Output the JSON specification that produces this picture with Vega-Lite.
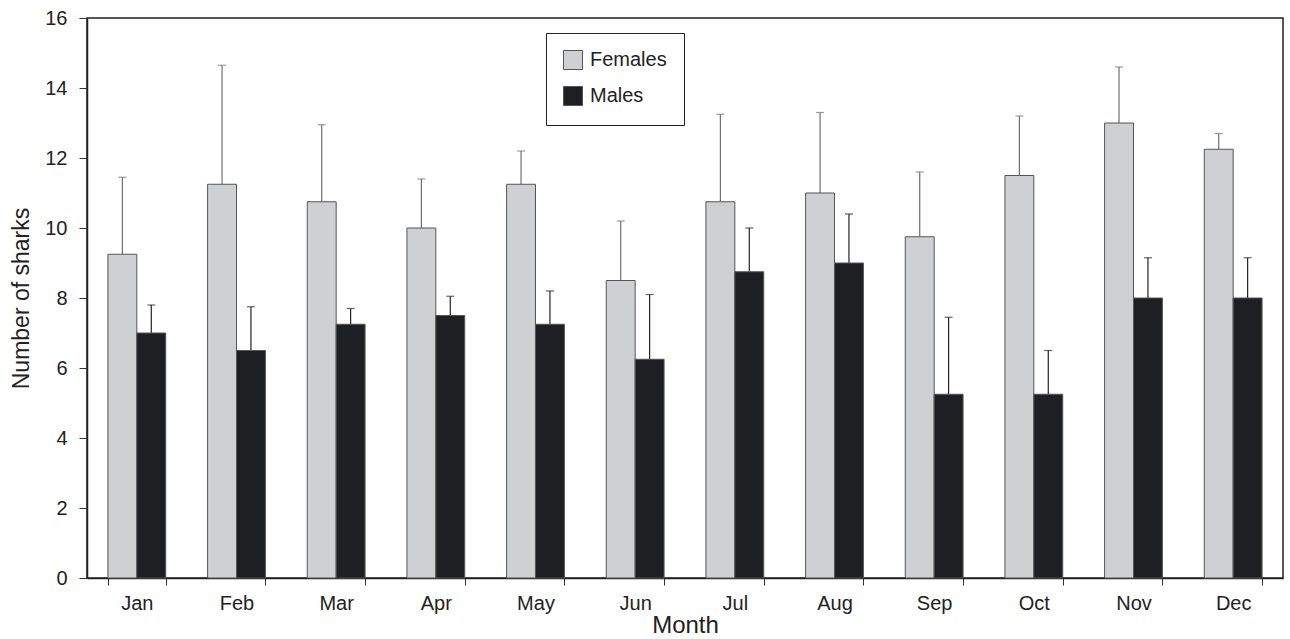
{
  "$schema": "https://vega.github.io/schema/vega-lite/v6.json",
  "autosize": {"type": "none"},
  "padding": {"left": 87, "top": 18, "right": 7, "bottom": 61},
  "width": 1196,
  "height": 560,
  "background": "white",
  "config": {
    "font": "Liberation Sans",
    "view": {"stroke": "#222", "strokeWidth": 1.5},
    "axis": {"domainColor": "#222", "domainWidth": 1.5, "tickColor": "#333", "labelColor": "#222", "titleColor": "#222", "labelFont": "Liberation Sans", "titleFont": "Liberation Sans", "titleFontWeight": "normal"}
  },
  "data": {
    "values": [
      {"month": "Jan", "sex": "Females", "value": 9.25, "upper": 11.45},
      {"month": "Jan", "sex": "Males", "value": 7.0, "upper": 7.8},
      {"month": "Feb", "sex": "Females", "value": 11.25, "upper": 14.65},
      {"month": "Feb", "sex": "Males", "value": 6.5, "upper": 7.75},
      {"month": "Mar", "sex": "Females", "value": 10.75, "upper": 12.95},
      {"month": "Mar", "sex": "Males", "value": 7.25, "upper": 7.7},
      {"month": "Apr", "sex": "Females", "value": 10.0, "upper": 11.4},
      {"month": "Apr", "sex": "Males", "value": 7.5, "upper": 8.05},
      {"month": "May", "sex": "Females", "value": 11.25, "upper": 12.2},
      {"month": "May", "sex": "Males", "value": 7.25, "upper": 8.2},
      {"month": "Jun", "sex": "Females", "value": 8.5, "upper": 10.2},
      {"month": "Jun", "sex": "Males", "value": 6.25, "upper": 8.1},
      {"month": "Jul", "sex": "Females", "value": 10.75, "upper": 13.25},
      {"month": "Jul", "sex": "Males", "value": 8.75, "upper": 10.0},
      {"month": "Aug", "sex": "Females", "value": 11.0, "upper": 13.3},
      {"month": "Aug", "sex": "Males", "value": 9.0, "upper": 10.4},
      {"month": "Sep", "sex": "Females", "value": 9.75, "upper": 11.6},
      {"month": "Sep", "sex": "Males", "value": 5.25, "upper": 7.45},
      {"month": "Oct", "sex": "Females", "value": 11.5, "upper": 13.2},
      {"month": "Oct", "sex": "Males", "value": 5.25, "upper": 6.5},
      {"month": "Nov", "sex": "Females", "value": 13.0, "upper": 14.6},
      {"month": "Nov", "sex": "Males", "value": 8.0, "upper": 9.15},
      {"month": "Dec", "sex": "Females", "value": 12.25, "upper": 12.7},
      {"month": "Dec", "sex": "Males", "value": 8.0, "upper": 9.15}
    ]
  },
  "encoding": {
    "x": {
      "field": "month", "type": "nominal",
      "sort": ["Jan","Feb","Mar","Apr","May","Jun","Jul","Aug","Sep","Oct","Nov","Dec"],
      "scale": {"paddingInner": 0.42, "paddingOuter": 0.21},
      "axis": {"title": "Month", "labelAngle": 0, "tickBand": "extent", "tickSize": 7, "labelPadding": 8, "labelFontSize": 20, "titleFontSize": 24, "titlePadding": 0}
    },
    "xOffset": {"field": "sex", "type": "nominal", "sort": ["Females", "Males"], "scale": {"paddingInner": 0, "paddingOuter": 0}}
  },
  "layer": [
    {
      "mark": {"type": "rule", "strokeWidth": 1.2},
      "encoding": {
        "y": {"field": "value", "type": "quantitative"},
        "y2": {"field": "upper"},
        "stroke": {"field": "sex", "type": "nominal", "scale": {"domain": ["Females", "Males"], "range": ["#707070", "#222222"]}, "legend": null}
      }
    },
    {
      "mark": {"type": "tick", "size": 8, "thickness": 1.2},
      "encoding": {
        "y": {"field": "upper", "type": "quantitative"},
        "color": {"field": "sex", "type": "nominal", "scale": {"domain": ["Females", "Males"], "range": ["#707070", "#222222"]}, "legend": null}
      }
    },
    {
      "mark": {"type": "bar", "stroke": "#555", "strokeWidth": 1},
      "encoding": {
        "y": {
          "field": "value", "type": "quantitative",
          "scale": {"domain": [0, 16], "nice": false},
          "axis": {"title": "Number of sharks", "values": [0,2,4,6,8,10,12,14,16], "grid": false, "tickSize": 8, "labelPadding": 12, "labelFontSize": 20, "titleFontSize": 23, "titlePadding": 11}
        },
        "fill": {
          "field": "sex", "type": "nominal",
          "scale": {"domain": ["Females", "Males"], "range": ["#cfd0d2", "#1e1f23"]},
          "legend": {
            "title": null, "orient": "none", "legendX": 459, "legendY": 15,
            "symbolType": "square", "symbolSize": 361, "symbolStrokeColor": "#555", "symbolStrokeWidth": 1,
            "labelFontSize": 20, "labelColor": "#222", "labelOffset": 7, "rowPadding": 12,
            "padding": 17, "strokeColor": "#222", "fillColor": "white"
          }
        }
      }
    }
  ],
  "resolve": {"scale": {"color": "independent", "fill": "independent", "stroke": "independent"}}
}
